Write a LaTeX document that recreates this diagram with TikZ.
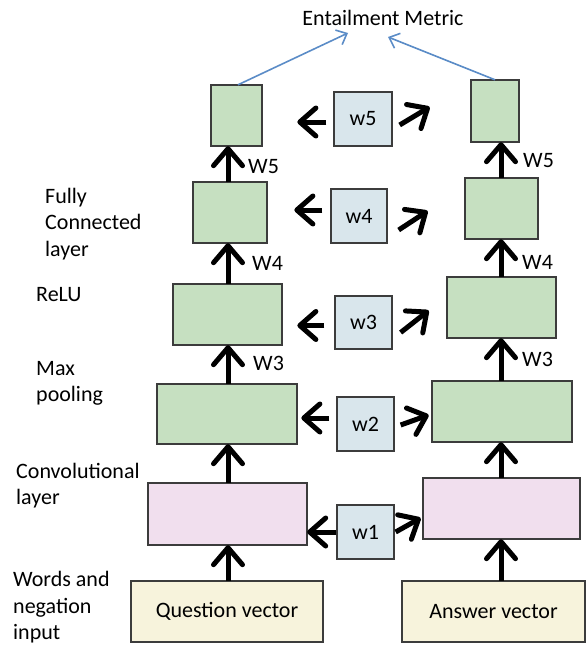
\documentclass[tikz,border=0pt]{standalone}
\usepackage{fontspec}
\setmainfont{Carlito}
\usetikzlibrary{arrows.meta}
\definecolor{gfill}{HTML}{C6E0C1}
\definecolor{pfill}{HTML}{F1DFEE}
\definecolor{wfill}{HTML}{D9E6EC}
\definecolor{vfill}{HTML}{F7F3DC}
\definecolor{bord}{HTML}{3C3C3C}
\definecolor{bluel}{HTML}{5B8CC7}
\begin{document}
\begin{tikzpicture}[x=1pt,y=-1pt,
  box/.style={draw=bord,line width=1.3pt},
  gbox/.style={box,fill=gfill},
  pbox/.style={box,fill=pfill},
  wbox/.style={box,fill=wfill},
  vbox/.style={box,fill=vfill},
  up/.style={line width=5pt,-{Straight Barb[length=17pt,width=29pt,round]}},
  side/.style={line width=5pt,-{Straight Barb[length=16pt,width=28pt,round]}},
  blue/.style={draw=bluel,line width=1.6pt,-{Straight Barb[length=9pt,width=16pt]}},
  lab/.style={font=\fontsize{22}{26.5}\selectfont,inner sep=0pt,align=left,anchor=west},
  txt/.style={font=\fontsize{22}{26.5}\selectfont,inner sep=0pt}]
\useasboundingbox (0,0) rectangle (587,645);
% boxes
\draw[vbox] (131,581) rectangle (323,642);
\node[txt] (qv) at (227,611.5) {Question vector};
\draw[vbox] (402,581) rectangle (585,642);
\node[txt] (av) at (493.5,611.5) {Answer vector};
\draw[pbox] (148,483) rectangle (307,545);
\draw[pbox] (423,478) rectangle (580,539);
\draw[gbox] (157,384) rectangle (297,444);
\draw[gbox] (432,381) rectangle (572,442);
\draw[gbox] (173,284) rectangle (282,345);
\draw[gbox] (447,277) rectangle (556,338);
\draw[gbox] (193,182) rectangle (267,243);
\draw[gbox] (465,178) rectangle (538,239);
\draw[gbox] (211,85) rectangle (262,146);
\draw[gbox] (471,80) rectangle (519,142);
% named anchor nodes for the layer boxes
\node[inner sep=0pt,minimum width=192pt,minimum height=61pt] (qvb) at (227,611.5) {};
\node[inner sep=0pt,minimum width=183pt,minimum height=61pt] (avb) at (493.5,611.5) {};
\node[inner sep=0pt,minimum width=159pt,minimum height=62pt] (lconv) at (227.5,514) {};
\node[inner sep=0pt,minimum width=157pt,minimum height=61pt] (rconv) at (501.5,508.5) {};
\node[inner sep=0pt,minimum width=140pt,minimum height=60pt] (lmp) at (227,414) {};
\node[inner sep=0pt,minimum width=140pt,minimum height=61pt] (rmp) at (502,411.5) {};
\node[inner sep=0pt,minimum width=109pt,minimum height=61pt] (lrelu) at (227.5,314.5) {};
\node[inner sep=0pt,minimum width=109pt,minimum height=61pt] (rrelu) at (501.5,307.5) {};
\node[inner sep=0pt,minimum width=74pt,minimum height=61pt] (lfc) at (230,212.5) {};
\node[inner sep=0pt,minimum width=73pt,minimum height=61pt] (rfc) at (501.5,208.5) {};
\node[inner sep=0pt,minimum width=51pt,minimum height=61pt] (ltop) at (236.5,115.5) {};
\node[inner sep=0pt,minimum width=48pt,minimum height=62pt] (rtop) at (495,111) {};
% w boxes
\node[wbox,txt,minimum width=57pt,minimum height=54pt] (w1) at (365.5,532) {w1};
\node[wbox,txt,minimum width=57pt,minimum height=54pt] (w2) at (365.5,424) {w2};
\node[wbox,txt,minimum width=57pt,minimum height=53pt] (w3) at (363.5,322.5) {w3};
\node[wbox,txt,minimum width=56pt,minimum height=54pt] (w4) at (359,216) {w4};
\node[wbox,txt,minimum width=58pt,minimum height=54pt] (w5) at (363,119) {w5};
% column coordinates
\coordinate (lc) at (228,0);
\coordinate (rc) at (501,0);
% vertical arrows
\draw[up] (qvb.north -| lc) -- (lconv.south -| lc);
\draw[up] (lconv.north -| lc) -- (lmp.south -| lc);
\draw[up] (lmp.north -| lc) -- (lrelu.south -| lc);
\draw[up] (lrelu.north -| lc) -- (lfc.south -| lc);
\draw[up] (lfc.north -| lc) -- (ltop.south -| lc);
\draw[up] (avb.north -| rc) -- (rconv.south -| rc);
\draw[up] (rconv.north -| rc) -- (rmp.south -| rc);
\draw[up] (rmp.north -| rc) -- (rrelu.south -| rc);
\draw[up] (rrelu.north -| rc) -- (rfc.south -| rc);
\draw[up] (rfc.north -| rc) -- (rtop.south -| rc);
% W labels
\node[lab] (lw5) at (248,167) {W5};
\node[lab] (lw4) at (252,263) {W4};
\node[lab] (lw3) at (253,363) {W3};
\node[lab] (rw5) at (523,161) {W5};
\node[lab] (rw4) at (522,262) {W4};
\node[lab] (rw3) at (522,359) {W3};
% side arrows
\draw[side] ([shift={(-7,3)}]w5.west) -- ([shift={(-36,3)}]w5.west);
\draw[side] ([shift={(7,6)}]w5.east) -- ([shift={(37,-12)}]w5.east);
\draw[side] ([shift={(-8,-6)}]w4.west) -- ([shift={(-36,-6)}]w4.west);
\draw[side] ([shift={(11,14)}]w4.east) -- ([shift={(40,-5)}]w4.east);
\draw[side] ([shift={(-10,3)}]w3.west) -- ([shift={(-37,3)}]w3.west);
\draw[side] ([shift={(8,10)}]w3.east) -- ([shift={(36,-12)}]w3.east);
\draw[side] ([shift={(-7,-6)}]w2.west) -- ([shift={(-35,-6)}]w2.west);
\draw[side] ([shift={(6,1)}]w2.east) -- ([shift={(34,-9)}]w2.east);
\draw[side] (w1.west) -- (lconv.east |- w1.west);
\draw[side] ([shift={(1,0)}]w1.east) -- ([shift={(26,-14)}]w1.east);
% top
\node[txt] (em) at (383,18) {Entailment Metric};
\coordinate (em1) at (348,33);
\coordinate (em2) at (388,37);
\draw[blue] ([xshift=1.5pt]ltop.north) -- (em1);
\draw[blue] (rtop.north) -- (em2);
% left labels
\node[lab] (lab1) at (45,224) {Fully\\Connected\\layer};
\node[lab] (lab2) at (36,295) {ReLU};
\node[lab] (lab3) at (36,383.5) {Max\\pooling};
\node[lab] (lab4) at (16,485.5) {Convolutional\\layer};
\node[lab] (lab5) at (13,607.5) {Words and\\negation\\input};
\end{tikzpicture}
\end{document}
